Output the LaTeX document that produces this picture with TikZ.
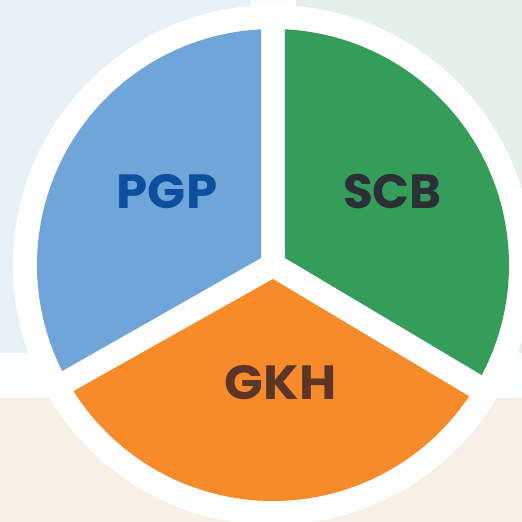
\documentclass[tikz,border=0pt]{standalone}
\usepackage{fontspec}
\setmainfont{Poppins}[BoldFont={Poppins Bold}]
\definecolor{bgblue}{HTML}{E8F1F8}
\definecolor{bggreen}{HTML}{E4F0E8}
\definecolor{bgbeige}{HTML}{F8F0E4}
\definecolor{bgpale}{HTML}{FBFEFD}
\definecolor{secblue}{HTML}{6FA5D8}
\definecolor{secgreen}{HTML}{349D5A}
\definecolor{secorange}{HTML}{F78B29}
\definecolor{txtblue}{HTML}{0B4F9E}
\definecolor{txtdark}{HTML}{2B2F36}
\definecolor{txtbrown}{HTML}{5B3628}
\tikzset{
  sectorlabel/.style={font=\fontsize{36}{36}\selectfont\bfseries, inner sep=0pt, anchor=center, transform shape},
  sector/.style={draw=none}
}
\begin{document}
\begin{tikzpicture}[x=0.75pt,y=0.75pt]
\useasboundingbox (0,0) rectangle (522,522);
% background bands (y measured upward from the bottom edge)
\fill[bgbeige] (0,0) rectangle (522,124);
\fill[bgpale] (0,124) rectangle (522,169);
\fill[bgblue] (0,169) rectangle (251,522);
\fill[bggreen] (296,169) rectangle (522,522);
\fill[bgpale] (251,169) rectangle (296,522);
\begin{scope}[shift={(273,257)}]
  \fill[white] (0,0) circle[radius=260];
  \fill[sector,secblue] (-12,7) -- (92.9:236) arc[start angle=92.9,end angle=206.7,radius=236] -- cycle;
  \fill[sector,secgreen] (12,7) -- (87.1:236) arc[start angle=87.1,end angle=-27.8,radius=236] -- cycle;
  \fill[sector,secorange] (0,-14) -- (212.3:236) arc[start angle=212.3,end angle=326.2,radius=236] -- cycle;
\end{scope}
\node[sectorlabel,text=txtblue,xscale=1.04] (pgp) at (167,330.5) {PGP};
\node[sectorlabel,text=txtdark,xscale=1.01] (scb) at (392.5,330) {SCB};
\node[sectorlabel,text=txtbrown,xscale=1.06] (gkh) at (280.5,139) {GKH};
\end{tikzpicture}
\end{document}
